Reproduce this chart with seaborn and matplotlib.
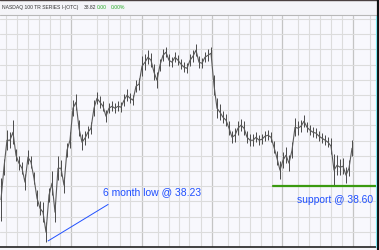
import numpy as np
import pandas as pd
import matplotlib
matplotlib.use("Agg")
import matplotlib.pyplot as plt
from matplotlib.lines import Line2D
import seaborn as sns

# ---- data ----
highs = [38.653, 38.778, 38.968, 38.955, 39.034, 38.843, 38.797, 38.758, 38.679, 38.837,
         38.797, 38.692, 38.574, 38.501, 38.495, 38.363, 38.587, 38.699, 38.495, 38.797,
         38.771, 38.659, 38.883, 38.955, 39.166, 39.205, 39.034, 38.942, 38.962, 38.995,
         39.021, 39.166, 39.218, 39.192, 39.159, 39.100, 39.146, 39.159, 39.146, 39.159,
         39.153, 39.205, 39.238, 39.212, 39.199, 39.297, 39.311, 39.455, 39.468, 39.495,
         39.475, 39.403, 39.350, 39.436, 39.501, 39.514, 39.468, 39.449, 39.482, 39.462,
         39.436, 39.416, 39.409, 39.468, 39.495, 39.534, 39.455, 39.442, 39.482, 39.501,
         39.514, 39.330, 39.179, 39.139, 39.093, 39.074, 39.028, 38.962, 38.982, 39.028,
         39.041, 39.028, 38.962, 38.942, 38.942, 38.955, 38.936, 38.942, 38.962, 38.968,
         38.955, 38.896, 38.830, 38.764, 38.824, 38.857, 38.804, 38.889, 39.047, 39.028,
         39.034, 39.067, 39.021, 39.001, 38.988, 38.982, 38.962, 38.949, 38.936, 38.922,
         38.916, 38.811, 38.804, 38.778, 38.784, 38.725, 38.771, 38.903]
lows = [38.370, 38.672, 38.837, 38.850, 38.876, 38.764, 38.705, 38.679, 38.574, 38.745,
        38.718, 38.613, 38.468, 38.409, 38.363, 38.232, 38.495, 38.541, 38.363, 38.639,
        38.666, 38.554, 38.791, 38.850, 39.061, 39.100, 38.929, 38.837, 38.870, 38.916,
        38.942, 39.061, 39.139, 39.113, 39.093, 39.021, 39.080, 39.093, 39.080, 39.093,
        39.087, 39.126, 39.159, 39.146, 39.133, 39.218, 39.232, 39.324, 39.363, 39.403,
        39.383, 39.297, 39.245, 39.357, 39.422, 39.449, 39.389, 39.383, 39.416, 39.396,
        39.370, 39.350, 39.343, 39.389, 39.416, 39.455, 39.376, 39.376, 39.416, 39.422,
        39.436, 39.199, 39.047, 39.034, 39.014, 38.995, 38.936, 38.883, 38.889, 38.936,
        38.962, 38.936, 38.883, 38.863, 38.863, 38.889, 38.870, 38.876, 38.896, 38.903,
        38.889, 38.817, 38.738, 38.646, 38.718, 38.751, 38.699, 38.784, 38.929, 38.936,
        38.955, 38.988, 38.955, 38.936, 38.922, 38.916, 38.896, 38.883, 38.870, 38.857,
        38.811, 38.600, 38.672, 38.672, 38.679, 38.620, 38.666, 38.797]

low_6m = 38.23
support = 38.60
title_name = "NASDAQ 100 TR SERIES I-(OTC)"
last_price = "38.82"
change = "0.00"
change_pct = "0.00%"
low_label = "6 month low @ 38.23"
support_label = "support @ 38.60"
low_day = 15            # bar index of the 6 month low
support_start_day = 90.7

week_lines = [1.67, 5.33, 9.0, 12.67, 16.33, 19.67, 32.0, 35.67, 39.67, 43.0, 52.33, 56.0,
              59.33, 62.67, 66.67, 75.67, 79.33, 83.0, 86.67, 90.33, 99.0, 102.67, 106.33,
              110.0, 113.67, 123.0]
month_lines = [23.33, 47.0, 70.33, 93.67, 117.33]
price_grid = [38.2 + 0.1 * k for k in range(16)]

df = pd.DataFrame({"day": np.arange(len(highs)), "high": highs, "low": lows})
df["mid"] = (df["high"] + df["low"]) / 2

# ---- figure ----
sns.set_style("white")
plt.rcParams["font.family"] = ["Liberation Sans", "DejaVu Sans"]
fig = plt.figure(figsize=(3.79, 2.50), dpi=100)
fig.patch.set_facecolor("#f4f4f8")

ax = fig.add_axes([0.0, 0.012, 376 / 379, 0.924])
ax.set_facecolor("#f8f8fd")

for x in week_lines:
    ax.axvline(x, color="#dcdcdc", lw=0.8, zorder=0)
for x in month_lines:
    ax.axvline(x, color="#c4c4c4", lw=0.9, zorder=0)
for y in price_grid:
    ax.axhline(y, color="#dcdcdc", lw=0.8, zorder=0)

ax.vlines(df["day"], df["low"], df["high"], color="#4a4a4a", lw=0.7, zorder=2)
sns.lineplot(data=df, x="day", y="mid", ax=ax, color="#5a5a5a", lw=0.8, zorder=2)

ax.set_xlim(-0.33, 125)
ax.set_ylim(38.20, 39.72)
ax.set_xticks([])
ax.set_yticks([])
ax.set_xlabel("")
ax.set_ylabel("")
for s in ["top", "left", "right"]:
    ax.spines[s].set_visible(False)
ax.spines["bottom"].set_color("#222222")
ax.spines["bottom"].set_linewidth(1.2)

# support line
ax.plot([support_start_day, 126], [support, support], color="#3a9a10", lw=1.6,
        zorder=3, clip_on=False)
ax.text(98.6, support - 0.09, support_label, color="#1f4fff", fontsize=7.4,
        va="center", ha="left", zorder=4)

# 6 month low annotation
ax.plot([low_day + 0.7, 35.7], [low_6m + 0.01, low_6m + 0.25], color="#2050ff",
        lw=0.7, zorder=4)
ax.text(34.0, low_6m + 0.33, low_label, color="#1f4fff", fontsize=7.5,
        va="center", ha="left", zorder=4)

# header
fig.add_artist(Line2D([0, 1], [1 - 15 / 250, 1 - 15 / 250], color="#b8b8b8", lw=0.8))
fig.add_artist(Line2D([0, 1], [0.999, 0.999], color="#4a4040", lw=1.0))
fig.add_artist(Line2D([377.5 / 379, 377.5 / 379], [0, 1], color="#111111", lw=1.6))
fig.add_artist(Line2D([376 / 379, 376 / 379], [0.012, 1 - 16 / 250], color="#7fe8f0", lw=0.8))
hy = 1 - 7.5 / 250
fig.text(2 / 379, hy, title_name, fontsize=3.6, color="#333333", va="center")
fig.text(84 / 379, hy, last_price, fontsize=3.6, color="#333333", va="center")
fig.text(97 / 379, hy, change, fontsize=3.6, color="#22aa22", va="center")
fig.text(111 / 379, hy, change_pct, fontsize=3.6, color="#22aa22", va="center")

fig.savefig("out.png", dpi=100, facecolor=fig.get_facecolor())
